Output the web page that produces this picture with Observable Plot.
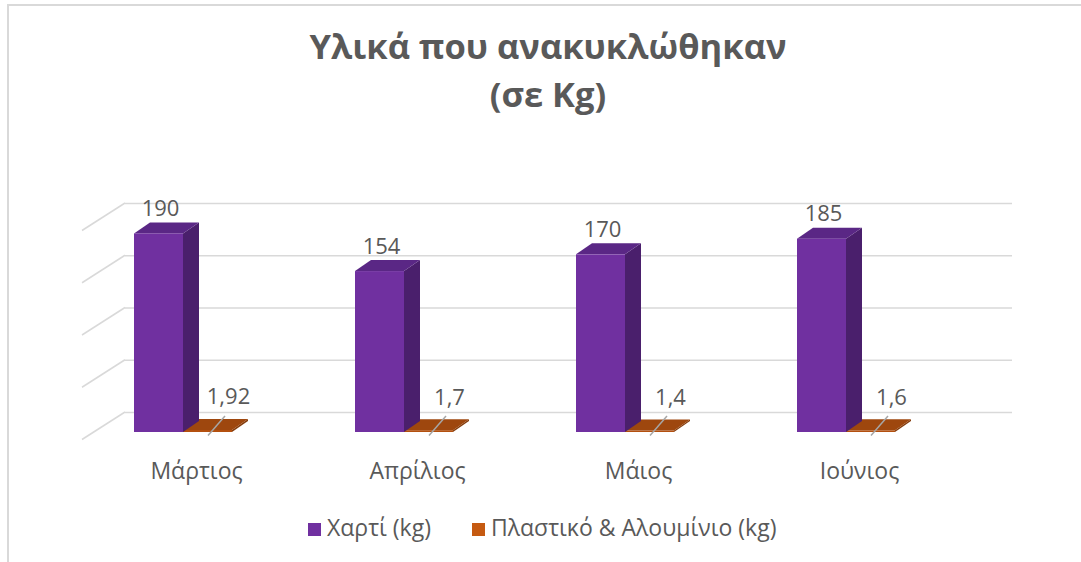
<!DOCTYPE html>
<html>
<head>
<meta charset="utf-8">
<script src="https://cdn.jsdelivr.net/npm/d3@7"></script>
<script src="https://cdn.jsdelivr.net/npm/@observablehq/plot@0.6"></script>
<style>
  html, body { margin: 0; padding: 0; background: #fff; }
  #page { position: relative; width: 1081px; height: 562px; overflow: hidden; font-family: "Open Sans", sans-serif; }
  #bl { position: absolute; left: 7px; top: 4px; width: 2px; height: 558px; background: #d9d9d9; }
  #bt { position: absolute; left: 7px; top: 4px; width: 1074px; height: 2px; background: #d9d9d9; }
  #title { position: absolute; left: 0; width: 1096px; top: 22px; text-align: center; color: #595959;
           font-weight: 700; font-size: 34.5px; line-height: 48px; }
  #chart { position: absolute; left: 0; top: 150px; }
  #legend { position: absolute; top: 514px; left: 0; width: 1081px; font-size: 23px; line-height: 26px; color: #595959; }
  .item { position: absolute; top: 0; white-space: nowrap; }
  .sw { display: inline-block; width: 13px; height: 13px; margin-right: 6px; vertical-align: 0px; }
</style>
</head>
<body>
<div id="page">
  <div id="bl"></div><div id="bt"></div>
  <div id="title">Υλικά που ανακυκλώθηκαν<br>(σε Kg)</div>
  <div id="chart"></div>
  <div id="legend"></div>
</div>
<script>
const months = ["Μάρτιος", "Απρίλιος", "Μάιος", "Ιούνιος"];
const paper = [190, 154, 170, 185];
const plastic = [1.92, 1.7, 1.4, 1.6];
const gridTicks = [0, 50, 100, 150, 200];
const seriesNames = ["Χαρτί (kg)", "Πλαστικό & Αλουμίνιο (kg)"];
const seriesColors = ["#7030A0", "#C55A11"];

const rows = months.map((m, i) => ({month: m, paper: paper[i], plastic: plastic[i]}));
const fmt = v => String(v).replace(".", ",");

const DX = 16, DY = -11;          // bar depth offset
const BACK_DY = -20;              // back wall offset from bar plane
const WALL_DX = -43, WALL_DY = 27.5;

function poly(g, pts, fill) {
  g.append("polygon").attr("points", pts.map(p => p.join(",")).join(" ")).attr("fill", fill);
}

function walls(index, scales, values, dims) {
  const y = scales.y;
  const g = d3.create("svg:g");
  for (const v of gridTicks) {
    const yb = y(v) + BACK_DY;
    g.append("line")
      .attr("x1", dims.marginLeft).attr("y1", yb)
      .attr("x2", dims.marginLeft + WALL_DX).attr("y2", yb + WALL_DY)
      .attr("stroke", "#d9d9d9").attr("stroke-width", 1.5);
  }
  return g.node();
}

function faces(index, scales, values, dims) {
  const x = scales.x, y = scales.y;
  const bw = x.bandwidth ? x.bandwidth() : 98;
  const g = d3.create("svg:g");
  rows.forEach(r => {
    const x0 = x(r.month), xm = x0 + bw / 2, x1 = x0 + bw;
    const y0 = y(0), yo = y(r.plastic), yp = y(r.paper);
    poly(g, [[x1, y0], [x1 + DX, y0 + DY], [x1 + DX, yo + DY], [x1, yo]], "#843C0C");
    poly(g, [[xm, yo], [xm + DX, yo + DY], [x1 + DX, yo + DY], [x1, yo]], "#9E470E");
    poly(g, [[xm, y0], [xm + DX, y0 + DY], [xm + DX, yp + DY], [xm, yp]], "#4A1F6C");
    poly(g, [[x0, yp], [x0 + DX, yp + DY], [xm + DX, yp + DY], [xm, yp]], "#5A2785");
  });
  return g.node();
}

function leaders(index, scales, values, dims) {
  const x = scales.x, y = scales.y;
  const bw = x.bandwidth ? x.bandwidth() : 98;
  const g = d3.create("svg:g");
  rows.forEach(r => {
    const c = x(r.month) + bw / 2;
    g.append("line")
      .attr("x1", c + 25).attr("y1", y(0) + 3.5)
      .attr("x2", c + 42).attr("y2", y(0) - 16)
      .attr("stroke", "#a6a6a6").attr("stroke-width", 1.5);
  });
  return g.node();
}

const chart = Plot.plot({
  width: 1081,
  height: 340,
  marginLeft: 125,
  marginRight: 69,
  marginTop: 0,
  marginBottom: 0,
  style: {fontFamily: "'Open Sans', sans-serif", background: "transparent", overflow: "visible"},
  x: {domain: months, range: [9.1, 1019.3], paddingInner: 0.5578, paddingOuter: 0.5578, axis: null},
  y: {domain: [0, 250], range: [282, 282 - 250 * 1.045], axis: null},
  marks: [
    Plot.ruleY(gridTicks, {dy: BACK_DY, stroke: "#d9d9d9", strokeWidth: 1.5}),
    walls,
    Plot.barY(rows, {x: "month", y: "plastic", fill: "#B4500F", insetLeft: 49}),
    faces,
    Plot.barY(rows, {x: "month", y: "paper", fill: "#7030A0", insetRight: 49}),
    leaders,
    Plot.text(rows, {x: "month", y: "paper", text: d => fmt(d.paper), dx: -23, dy: -18,
      lineAnchor: "bottom", fontSize: 22, fill: "#595959"}),
    Plot.text(rows, {x: "month", y: "plastic", text: d => fmt(d.plastic), dx: 45, dy: -26,
      lineAnchor: "bottom", fontSize: 22, fill: "#595959"}),
    Plot.text(rows, {x: "month", y: d => 0, text: "month", dx: 13, dy: 46,
      lineAnchor: "bottom", fontSize: 23, fill: "#595959"})
  ]
});
document.getElementById("chart").appendChild(chart);

const legend = document.getElementById("legend");
const lx = [308, 472];
seriesNames.forEach((n, i) => {
  const it = document.createElement("div");
  it.className = "item";
  it.style.left = lx[i] + "px";
  it.innerHTML = `<span class="sw" style="background:${seriesColors[i]}"></span>${n}`;
  legend.appendChild(it);
});
</script>
</body>
</html>
